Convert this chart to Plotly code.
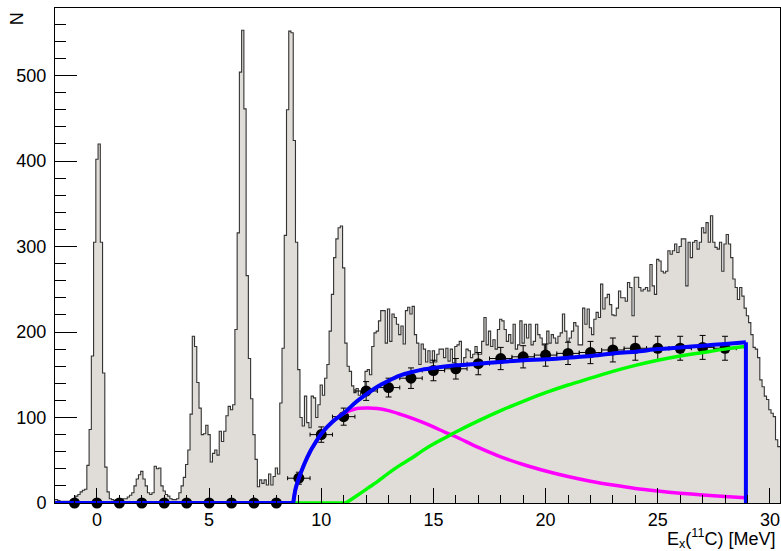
import plotly.graph_objects as go

# ---------------- data ----------------
# histogram: 0.1 MeV bins, first bin starts at -1.95 MeV
bin_lo = -1.95
bin_width = 0.1
hist_counts = [
    4, 4, 3, 2, 2, 2, 2, 2, 3, 5,
    8, 10, 13, 15, 16, 44, 86, 172, 305, 402,
    420, 305, 152, 42, 13, 5, 4, 3, 4, 3,
    4, 5, 5, 7, 9, 12, 20, 28, 33, 37,
    28, 20, 12, 10, 12, 43, 40, 41, 20, 14,
    10, 8, 5, 4, 4, 5, 12, 20, 30, 45,
    62, 104, 195, 183, 141, 111, 80, 81, 91, 80,
    48, 58, 62, 56, 84, 72, 84, 102, 113, 109,
    115, 203, 316, 504, 553, 461, 266, 169, 122, 80,
    51, 19, 27, 23, 27, 21, 34, 21, 31, 41,
    34, 117, 181, 313, 460, 552, 550, 424, 305, 156,
    100, 90, 125, 94, 88, 125, 123, 100, 115, 138,
    126, 146, 162, 201, 244, 287, 309, 322, 324, 275,
    187, 160, 154, 137, 129, 134, 126, 130, 133, 154,
    156, 150, 183, 199, 201, 213, 225, 225, 187, 227,
    189, 221, 217, 209, 197, 207, 186, 225, 229, 221,
    230, 197, 187, 162, 186, 180, 165, 178, 164, 178,
    165, 174, 180, 180, 170, 181, 166, 180, 164, 183,
    185, 189, 160, 170, 180, 178, 170, 174, 183, 174,
    174, 189, 217, 185, 201, 183, 191, 180, 203, 215,
    213, 203, 189, 197, 187, 209, 180, 185, 213, 187,
    209, 193, 209, 185, 189, 209, 197, 193, 185, 178,
    201, 187, 197, 193, 187, 195, 199, 221, 201, 189,
    193, 201, 211, 207, 185, 185, 228, 209, 227, 205,
    197, 215, 223, 217, 256, 227, 240, 244, 232, 220,
    219, 228, 248, 240, 240, 236, 258, 252, 219, 264,
    264, 252, 248, 250, 252, 248, 279, 254, 244, 285,
    283, 271, 269, 271, 295, 291, 295, 303, 293, 300,
    309, 309, 254, 305, 287, 305, 307, 297, 305, 322,
    316, 328, 305, 336, 305, 299, 297, 305, 271, 303,
    314, 303, 287, 262, 252, 238, 252, 242, 228, 219,
    211, 197, 182, 180, 170, 144, 136, 125, 121, 109,
    105, 101, 74, 66,
]

# data points
pt_x = [-1, 0, 1, 2, 3, 4, 5, 6, 7, 8, 9, 10, 11, 12, 13, 14, 15, 16, 17, 18,
        19, 20, 21, 22, 23, 24, 25, 26, 27, 28]
pt_y = [0, 0, 0, 0, 0, 0, 0, 0, 0, 0, 29, 80, 101, 131, 135, 146, 155, 157, 163, 169,
        171, 173, 175, 176, 179, 181, 181, 181, 182, 181]
pt_yerr = [0, 0, 0, 0, 0, 0, 0, 0, 0, 0, 7, 9, 10, 11, 11, 12, 12, 12, 13, 13,
           13, 13, 13, 13, 14, 14, 14, 14, 14, 14]
pt_xerr = 0.5

# total fit (blue)
blue_x = [8.75, 8.85, 9.0, 9.25, 9.5, 9.75, 10.0, 10.5, 11.0, 11.5, 12.0, 12.5, 13.0,
          13.5, 14.0, 14.5, 15.0, 16.0, 17.0, 18.0, 19.0, 20.0, 21.0, 22.0, 23.0,
          24.0, 25.0, 26.0, 27.0, 28.0, 28.93]
blue_y = [0, 16, 29, 46, 60, 71, 81, 95, 105, 117, 127, 136, 143,
          149, 153, 156, 158, 161, 163, 165, 167, 168, 170, 172, 175,
          177, 180, 182, 184, 186, 188]
blue_start = -1.9
blue_end = 28.93

# component 1 (magenta)
mag_x = [8.75, 8.85, 9.0, 9.25, 9.5, 9.75, 10.0, 10.5, 11.0, 11.5, 12.0, 12.5, 13.0,
         13.5, 14.0, 14.5, 15.0, 15.5, 16.0, 17.0, 18.0, 19.0, 20.0, 21.0, 22.0,
         23.0, 24.0, 25.0, 26.0, 27.0, 28.0, 28.9]
mag_y = [0, 16, 29, 46, 60, 71, 81, 95, 105, 110, 111, 110.5, 108,
         104, 99.5, 94.5, 89, 83, 77.5, 65, 54, 45, 37.5, 31, 25.5,
         21, 17, 14, 11.5, 9.5, 7.5, 6]

# component 2 (green)
green_flat_x = [8.75, 11.1]
green_x = [11.1, 11.5, 12.0, 12.5, 13.0, 13.5, 14.0, 14.5, 15.0, 15.5, 16.0, 17.0,
           18.0, 19.0, 20.0, 21.0, 22.0, 23.0, 24.0, 25.0, 26.0, 27.0, 28.0, 28.9]
green_y = [0, 7, 16, 25, 35, 44, 52, 61, 69, 76, 83, 96,
           108, 119, 129, 138, 146, 154, 161, 167, 172, 176, 180, 183]

# ---------------- figure ----------------
n = len(hist_counts)
edges = [bin_lo + i * bin_width for i in range(n + 1)]
step_x = edges
step_y = hist_counts + [hist_counts[-1]]

fig = go.Figure()

fig.add_trace(go.Scatter(
    x=step_x, y=step_y, mode="lines", line=dict(shape="hv", color="#333333", width=1.1),
    fill="tozeroy", fillcolor="rgb(224,220,215)", hoverinfo="skip", showlegend=False))

fig.add_trace(go.Scatter(
    x=pt_x, y=pt_y, mode="markers",
    marker=dict(color="black", size=11),
    error_x=dict(type="constant", value=pt_xerr, color="black", thickness=1, width=2),
    error_y=dict(type="data", array=pt_yerr, color="black", thickness=1, width=3),
    cliponaxis=False, showlegend=False))

fig.add_trace(go.Scatter(x=mag_x, y=mag_y, mode="lines",
                         line=dict(color="#ff00ff", width=3.5, shape="spline", smoothing=0.8),
                         showlegend=False))
fig.add_trace(go.Scatter(x=green_flat_x, y=[0, 0], mode="lines",
                         line=dict(color="#00ff00", width=3.5), showlegend=False))
fig.add_trace(go.Scatter(x=green_x, y=green_y, mode="lines",
                         line=dict(color="#00ff00", width=3.5, shape="spline", smoothing=0.8),
                         showlegend=False))
fig.add_trace(go.Scatter(x=[blue_start, blue_x[0]], y=[0, 0], mode="lines",
                         line=dict(color="#0000ff", width=4), showlegend=False))
fig.add_trace(go.Scatter(x=blue_x, y=blue_y, mode="lines",
                         line=dict(color="#0000ff", width=4, shape="spline", smoothing=0.8),
                         showlegend=False))
fig.add_trace(go.Scatter(x=[blue_end, blue_end], y=[blue_y[-1], 0], mode="lines",
                         line=dict(color="#0000ff", width=4), showlegend=False))

font = dict(family="Liberation Sans, Arial, sans-serif", size=18, color="black")

fig.update_layout(
    width=781, height=551, autosize=False,
    margin=dict(l=55, r=1, t=8, b=48, autoexpand=False),
    paper_bgcolor="white", plot_bgcolor="white",
    font=font,
    xaxis=dict(range=[-1.87, 30.45], showgrid=False, zeroline=False,
               tick0=0, dtick=5, ticks="inside", ticklen=15, tickwidth=1, tickcolor="black",
               minor=dict(ticks="inside", dtick=1, ticklen=8, tickwidth=1, tickcolor="black"),
               showline=True, linecolor="black", linewidth=1, mirror=True,
               tickfont=font),
    yaxis=dict(range=[0, 579], showgrid=False, zeroline=False,
               tick0=0, dtick=100, ticks="inside", ticklen=22, tickwidth=1, tickcolor="black",
               minor=dict(ticks="inside", dtick=20, ticklen=11, tickwidth=1, tickcolor="black"),
               showline=True, linecolor="black", linewidth=1, mirror=True,
               tickfont=font, ticklabelstandoff=4),
    annotations=[
        dict(text="N", xref="paper", yref="paper", x=-0.052, y=0.995,
             xanchor="center", yanchor="top", textangle=-90, showarrow=False, font=font),
        dict(text="E<sub>x</sub>(<sup>11</sup>C) [MeV]", xref="paper", yref="paper",
             x=0.996, y=-0.071, xanchor="right", yanchor="middle", showarrow=False, font=font),
    ],
)

# remove the default 8 px page margin so the figure fills the window exactly
fig.write_html(
    "out.html",
    config={"displayModeBar": False},
    post_script="document.body.style.margin='0';document.body.style.overflow='hidden';",
)
